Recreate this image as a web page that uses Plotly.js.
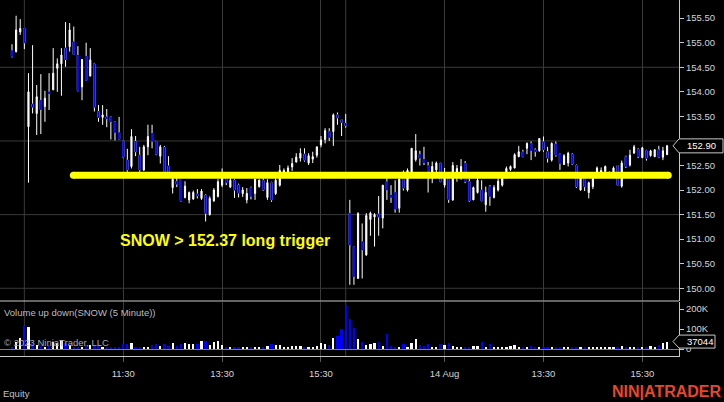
<!DOCTYPE html>
<html><head><meta charset="utf-8">
<script src="https://cdn.plot.ly/plotly-3.0.1.min.js"></script>
<style>html,body{margin:0;padding:0;background:#000;overflow:hidden}#chart{width:724px;height:402px}</style>
</head><body><div id="chart"></div>
<script>
// 5-minute bars, SNOW (two sessions)
const opens = [154.84,154.82,155.22,155.29,153.29,153.75,153.56,153.83,153.70,154.00,
154.04,154.48,154.57,154.89,154.92,155.02,154.75,154.10,154.73,154.32,
154.57,153.60,153.48,153.49,153.49,153.39,153.17,153.00,152.61,152.48,
152.99,152.71,152.41,152.88,153.16,152.99,152.69,152.87,152.49,152.05,
152.18,152.25,151.85,151.80,151.82,151.92,151.83,151.90,151.50,151.78,
151.87,152.10,152.24,152.06,152.20,152.10,151.93,151.80,152.05,151.93,
152.07,152.20,151.85,152.15,151.93,152.10,152.33,152.37,152.47,152.57,
152.65,152.73,152.55,152.63,152.71,152.92,153.03,153.19,153.19,153.53,
153.43,153.36,151.53,150.85,150.20,150.95,150.68,151.40,151.45,151.51,
151.43,152.17,151.90,151.95,151.63,152.24,152.00,152.37,152.62,152.73,
152.63,152.50,152.37,152.41,152.55,152.10,152.26,151.80,152.27,152.34,
152.55,152.17,151.80,151.95,152.00,151.70,152.07,151.85,152.00,152.10,
152.25,152.42,152.45,152.68,152.78,152.85,152.95,152.82,152.80,152.98,
152.78,152.61,152.94,152.73,152.52,152.55,152.73,152.50,152.00,152.25,
151.95,152.07,152.26,152.30,152.38,152.30,152.30,152.50,152.08,152.68,
152.51,152.75,152.83,152.66,152.80,152.70,152.68,152.82,152.67,152.72];
const highs = [154.97,155.55,155.48,155.29,154.38,154.95,154.14,154.36,154.02,154.38,
154.89,154.68,154.89,155.42,155.40,155.33,154.93,154.66,155.00,154.89,
154.59,153.73,153.73,153.65,153.49,153.39,153.49,153.00,152.84,153.24,
153.10,152.88,152.92,153.33,153.33,152.99,152.92,152.90,152.69,152.33,
152.30,152.30,152.18,151.97,151.99,152.02,152.02,151.92,151.87,152.04,
152.22,152.44,152.28,152.26,152.22,152.13,152.06,152.04,152.07,152.22,
152.22,152.24,152.22,152.17,152.24,152.51,152.44,152.50,152.65,152.75,
152.85,152.85,152.75,152.78,152.88,153.10,153.26,153.26,153.56,153.58,
153.43,153.55,151.80,150.85,151.55,151.32,151.53,151.56,151.53,151.88,
152.10,152.24,152.10,152.20,152.24,152.40,152.44,152.85,153.14,152.80,
152.88,152.57,152.58,152.58,152.55,152.45,152.35,152.57,152.51,152.63,
152.59,152.24,152.07,152.26,152.20,152.07,152.10,152.10,152.24,152.34,
152.48,152.50,152.75,152.90,152.82,152.97,152.99,152.85,153.05,153.09,
152.88,152.97,152.99,152.74,152.73,152.78,152.75,152.52,152.27,152.26,
152.17,152.27,152.48,152.46,152.50,152.38,152.48,152.51,152.60,152.70,
152.82,152.92,152.85,152.88,152.82,152.82,152.83,152.90,152.88,152.92];
const lows = [154.70,154.80,155.16,154.87,152.15,153.56,153.12,153.14,153.39,153.63,
154.04,154.00,153.92,154.51,154.82,154.75,154.02,153.83,154.23,154.32,
153.60,153.39,153.33,153.28,153.03,153.01,153.02,152.65,152.37,152.44,
152.69,152.37,152.39,152.71,152.85,152.71,152.54,152.37,152.28,151.93,
152.06,151.76,151.83,151.73,151.80,151.83,151.80,151.36,151.48,151.76,
151.85,152.06,152.10,152.04,151.84,151.85,151.86,151.73,151.81,151.80,
152.05,151.98,151.80,151.76,151.90,152.07,152.30,152.33,152.39,152.56,
152.58,152.58,152.51,152.55,152.66,152.87,152.95,153.00,152.90,153.33,
153.10,153.27,150.07,150.07,150.20,150.20,150.66,151.07,150.85,151.07,
151.22,151.80,151.74,151.54,151.54,151.99,151.97,152.33,152.58,152.50,
152.51,151.95,152.14,152.34,152.17,152.05,151.74,151.78,152.17,152.21,
152.14,151.76,151.80,151.93,151.78,151.56,151.68,151.83,151.97,152.07,
152.24,152.39,152.44,152.67,152.67,152.73,152.61,152.68,152.78,152.78,
152.56,152.58,152.68,152.41,152.51,152.48,152.51,152.04,151.99,151.98,
151.83,152.02,152.24,152.27,152.30,152.26,152.27,152.09,152.05,152.45,
152.48,152.75,152.65,152.65,152.60,152.68,152.67,152.65,152.61,152.72];
const closes = [154.72,155.26,155.29,155.00,154.00,153.69,153.90,153.64,153.87,153.96,
154.38,154.57,154.75,154.66,155.26,154.76,154.02,154.66,154.23,154.65,
153.69,153.48,153.53,153.45,153.39,153.17,153.03,152.67,152.41,153.09,
152.78,152.41,152.88,153.09,152.99,152.73,152.88,152.38,152.30,152.22,
152.12,151.77,152.08,151.95,151.95,151.88,151.98,151.53,151.83,152.00,
152.17,152.25,152.15,152.20,152.00,151.94,152.00,151.93,151.87,152.22,
152.20,152.00,152.15,151.80,152.20,152.40,152.40,152.45,152.54,152.67,
152.75,152.61,152.70,152.68,152.88,153.02,153.21,153.07,153.53,153.47,
153.38,153.31,150.88,150.24,151.52,150.78,151.48,151.53,151.50,151.45,
152.10,152.00,151.85,151.61,152.22,152.04,152.40,152.85,152.80,152.65,
152.55,152.37,152.48,152.55,152.17,152.30,151.81,152.50,152.44,152.48,
152.17,151.78,152.05,152.20,151.78,151.95,151.87,152.05,152.18,152.30,
152.44,152.48,152.72,152.78,152.68,152.95,152.80,152.78,153.05,152.82,
152.65,152.95,152.71,152.54,152.70,152.75,152.53,152.07,152.25,152.07,
152.15,152.24,152.45,152.40,152.48,152.35,152.45,152.10,152.55,152.48,
152.71,152.88,152.68,152.86,152.65,152.80,152.82,152.67,152.80,152.90];
const volumes = [12000,37000,53000,115000,108000,37000,20000,20000,12000,20000,
37000,28000,45000,28000,20000,12000,12000,12000,20000,20000,
17000,20000,12000,12000,12000,8000,12000,23000,23000,32000,
12000,12000,8000,12000,20000,23000,17000,23000,17000,32000,
17000,23000,28000,25000,25000,25000,42000,42000,20000,37000,
42000,20000,12000,8000,12000,7000,12000,8000,8000,7000,
12000,8000,17000,23000,20000,20000,8000,12000,17000,17000,
17000,12000,8000,12000,17000,28000,23000,20000,57000,65000,
98000,220000,150000,103000,52000,33000,20000,23000,28000,35000,
15000,73000,17000,12000,12000,23000,12000,28000,48000,20000,
17000,23000,8000,8000,23000,20000,28000,17000,8000,8000,
12000,8000,15000,15000,37000,12000,23000,12000,12000,12000,
12000,17000,20000,12000,8000,8000,15000,12000,8000,12000,
8000,8000,8000,12000,7000,7000,7000,7000,7000,8000,
7000,7000,7000,7000,7000,7000,7000,8000,15000,12000,
8000,8000,12000,12000,8000,17000,12000,20000,28000,37044];

// Axis labels
const tickBars = [27, 51, 75, 105, 129, 153];
const tickLabels = ['11:30', '13:30', '15:30', '14 Aug', '13:30', '15:30'];
const extraGridBars = [3, 81];
const priceTickVals = [150, 150.5, 151, 151.5, 152, 152.5, 153.5, 154, 154.5, 155, 155.5];
const priceGridLevels = [150, 151.5, 153, 154.5];
const volTickVals = [0, 100000, 200000];
const volTickText = ['0', '100K', '200K'];

// Drawing (horizontal trigger line)
const triggerLevel = 152.30;
const triggerStartBar = 14.9;
const triggerEndBar = 159.3;
const triggerLabel = 'SNOW > 152.37 long trigger';
const triggerLabelPrice = 150.98;

const UP = '#ffffff', DOWN = '#0000ff', GRID = '#3a3a3a', AXIS = '#c8c8c8', TXT = '#d4d4d4';
const FONT = '"Liberation Sans", Arial, sans-serif';

const bars = opens.map((_, i) => i);
const downIdx = bars.filter(i => closes[i] < opens[i]);
const volColors = bars.map(i => closes[i] < opens[i] ? DOWN : UP);
const lastClose = closes[closes.length - 1];
const lastVol = volumes[volumes.length - 1];

const traces = [
  { type: 'candlestick', x: bars, open: opens, high: highs, low: lows, close: closes,
    xaxis: 'x', yaxis: 'y', whiskerwidth: 0, hoverinfo: 'skip', showlegend: false,
    increasing: { line: { color: UP, width: 1 }, fillcolor: UP },
    decreasing: { line: { color: UP, width: 1 }, fillcolor: DOWN } },
  { type: 'candlestick', x: downIdx, open: downIdx.map(i => opens[i]), high: downIdx.map(i => opens[i]),
    low: downIdx.map(i => closes[i]), close: downIdx.map(i => closes[i]),
    xaxis: 'x', yaxis: 'y', whiskerwidth: 0, hoverinfo: 'skip', showlegend: false,
    increasing: { line: { color: DOWN, width: 1 }, fillcolor: DOWN },
    decreasing: { line: { color: DOWN, width: 1 }, fillcolor: DOWN } },
  { type: 'bar', x: bars, y: volumes, xaxis: 'x', yaxis: 'y2', width: 0.55,
    marker: { color: volColors, line: { width: 0 } }, hoverinfo: 'skip', showlegend: false }
];

const H = 356;
const priceBottom = 55 / H, volTop = 54 / H;

const shapes = [];
priceGridLevels.forEach(lv => shapes.push({ type: 'line', xref: 'paper', x0: 0, x1: 1, yref: 'y', y0: lv, y1: lv,
  line: { color: GRID, width: 1 }, layer: 'below' }));
extraGridBars.forEach(b => shapes.push({ type: 'line', xref: 'x', x0: b, x1: b, yref: 'paper', y0: 0, y1: 1,
  line: { color: GRID, width: 1 }, layer: 'below' }));
shapes.push({ type: 'line', xref: 'paper', x0: 0, x1: 1, yref: 'paper', y0: priceBottom, y1: priceBottom,
  line: { color: AXIS, width: 1 }, layer: 'above' });
shapes.push({ type: 'line', xref: 'x', x0: triggerStartBar, x1: triggerEndBar, yref: 'y', y0: triggerLevel, y1: triggerLevel,
  line: { color: '#ffff00', width: 7 }, layer: 'above' });
[triggerStartBar, triggerEndBar].forEach(b => shapes.push({ type: 'circle', xref: 'x', xsizemode: 'pixel', xanchor: b,
  x0: -3.5, x1: 3.5, yref: 'y', ysizemode: 'pixel', yanchor: triggerLevel, y0: -3.5, y1: 3.5,
  fillcolor: '#ffff00', line: { width: 0 }, layer: 'above' }));
shapes.push({ type: 'path', xref: 'paper', xsizemode: 'pixel', xanchor: 1, yref: 'y', ysizemode: 'pixel', yanchor: lastClose,
  path: 'M-6,0L0,7L44,7L44,-7L0,-7Z', fillcolor: '#000', line: { color: AXIS, width: 1 }, layer: 'above' });
shapes.push({ type: 'path', xref: 'paper', xsizemode: 'pixel', xanchor: 1, yref: 'y2', ysizemode: 'pixel', yanchor: lastVol,
  path: 'M-6,0L0,6.5L36,6.5L36,-6.5L0,-6.5Z', fillcolor: '#000', line: { color: AXIS, width: 1 }, layer: 'above' });

const annotations = [
  { xref: 'paper', x: 1, xanchor: 'left', xshift: 6, yref: 'y', y: lastClose, yanchor: 'middle',
    text: lastClose.toFixed(2), showarrow: false, font: { family: FONT, size: 9.5, color: '#ffffff' } },
  { xref: 'paper', x: 1, xanchor: 'left', xshift: 6, yref: 'y2', y: lastVol, yanchor: 'middle',
    text: String(lastVol), showarrow: false, font: { family: FONT, size: 9.5, color: '#ffffff' } },
  { xref: 'paper', x: 120 / 679, xanchor: 'left', xshift: -2, yref: 'y', y: triggerLabelPrice, yanchor: 'middle',
    text: triggerLabel, showarrow: false, font: { family: FONT, size: 16, color: '#ffff00', weight: 'bold' } },
  { xref: 'paper', x: 0, xanchor: 'left', xshift: 2, yref: 'paper', y: volTop, yanchor: 'middle', yshift: -10,
    text: 'Volume up down(SNOW (5 Minute))', showarrow: false, font: { family: FONT, size: 9.5, color: '#bdbdbd' } },
  { xref: 'paper', x: 0, xanchor: 'left', xshift: 2, yref: 'paper', y: 0, yanchor: 'middle', yshift: 14,
    text: '© 2023 NinjaTrader, LLC', showarrow: false, font: { family: FONT, size: 9.5, color: '#a8a8a8' } },
  { xref: 'paper', x: 0, xanchor: 'left', xshift: 1, yref: 'paper', y: 0, yanchor: 'middle', yshift: -37,
    text: 'Equity', showarrow: false, font: { family: FONT, size: 9.5, color: '#c0c0c0' } },
  { xref: 'paper', x: 1, xanchor: 'right', xshift: 45, yref: 'paper', y: 0, yanchor: 'middle', yshift: -35,
    text: 'NIN|ATRADER', showarrow: false, font: { family: FONT, size: 16, color: '#e8462a', weight: 'bold' } }
];

const layout = {
  width: 724, height: 402, paper_bgcolor: '#000', plot_bgcolor: '#000',
  margin: { l: 0, r: 45, t: 0, b: 46, pad: 0 }, showlegend: false, boxgap: 0.6, bargap: 0,
  font: { family: FONT, size: 9.5, color: TXT },
  xaxis: { domain: [0, 1], anchor: 'y2', range: [-2.91, 161.9], tickvals: tickBars, ticktext: tickLabels,
    showgrid: true, gridcolor: GRID, gridwidth: 1, zeroline: false, showline: true, linecolor: AXIS,
    ticks: 'outside', ticklen: 5, tickcolor: '#5a5a5a', ticklabelstandoff: 4,
    tickfont: { family: FONT, size: 9.5, color: TXT }, rangeslider: { visible: false }, fixedrange: true },
  yaxis: { domain: [priceBottom, 1], anchor: 'x', range: [149.741, 155.870], side: 'right',
    tickvals: priceTickVals, tickformat: '.2f', showgrid: false, zeroline: false,
    showline: true, linecolor: AXIS, ticks: 'outside', ticklen: 4, tickcolor: AXIS,
    tickfont: { family: FONT, size: 9.5, color: TXT }, fixedrange: true },
  yaxis2: { domain: [0, volTop], anchor: 'x', range: [-35000, 235000], side: 'right',
    tickvals: volTickVals, ticktext: volTickText, showgrid: false, zeroline: true, zerolinecolor: '#808080', zerolinewidth: 1,
    showline: true, linecolor: AXIS, ticks: 'outside', ticklen: 4, tickcolor: AXIS,
    tickfont: { family: FONT, size: 9.5, color: TXT }, fixedrange: true },
  shapes: shapes, annotations: annotations
};

Plotly.newPlot('chart', traces, layout, { displayModeBar: false, responsive: false });
</script>
</body></html>
